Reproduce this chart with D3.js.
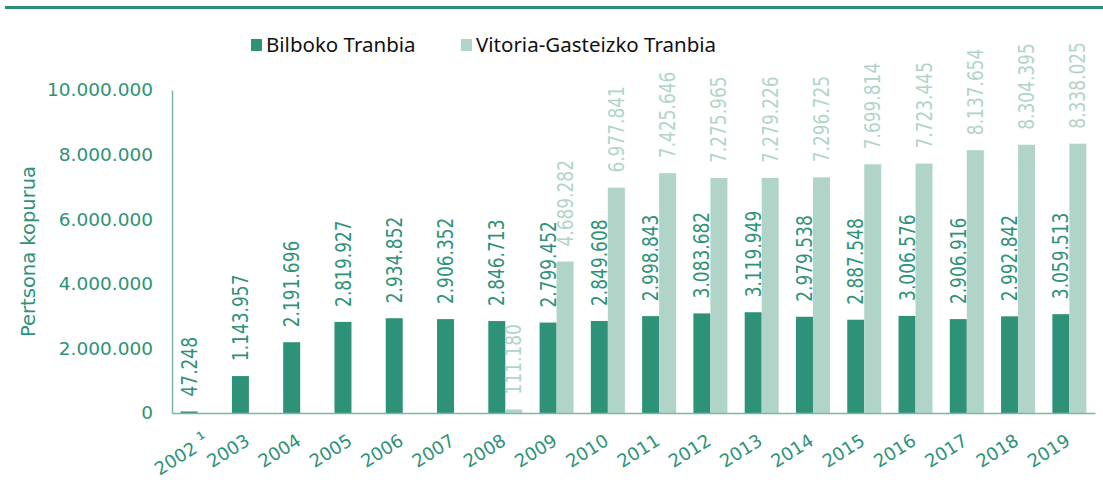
<!DOCTYPE html>
<html>
<head>
<meta charset="utf-8">
<script src="https://cdn.jsdelivr.net/npm/d3@7"></script>
<style>
  body { margin: 0; background: #fff; }
  svg { display: block; }
</style>
</head>
<body>
<div id="wrapper"></div>
<script>
// data
const years = ["2002","2003","2004","2005","2006","2007","2008","2009","2010",
  "2011","2012","2013","2014","2015","2016","2017","2018","2019"]
const yearLabels = ["2002 ¹","2003","2004","2005","2006","2007","2008","2009","2010",
  "2011","2012","2013","2014","2015","2016","2017","2018","2019"]
const bilbao = [47248,1143957,2191696,2819927,2934852,2906352,2846713,2799452,2849608,
  2998843,3083682,3119949,2979538,2887548,3006576,2906916,2992842,3059513]
const vitoria = [null,null,null,null,null,null,111180,4689282,6977841,
  7425646,7275965,7279226,7296725,7699814,7723445,8137654,8304395,8338025]
const seriesNames = ["Bilboko Tranbia","Vitoria-Gasteizko Tranbia"]
const yTicks = [0,2000000,4000000,6000000,8000000,10000000]
const yTitle = "Pertsona kopurua"

const darkGreen = "#2e9278"
const lightGreen = "#b0d5c8"
const axisColor = "#7cb6a4"

const width = 1103
const height = 487
let dimensions = {
  width: width,
  height: height,
  margin: {top: 90, right: 8, bottom: 74, left: 172},
}
dimensions.boundedWidth = dimensions.width - dimensions.margin.left - dimensions.margin.right
dimensions.boundedHeight = dimensions.height - dimensions.margin.top - dimensions.margin.bottom

const locale = d3.formatLocale({decimal: ",", thousands: ".", grouping: [3], currency: ["", ""]})
const fmt = locale.format(",d")

const rows = years.map((y, i) => ({year: y, label: yearLabels[i], values: [bilbao[i], vitoria[i]]}))

const svg = d3.select("#wrapper").append("svg")
    .attr("width", dimensions.width)
    .attr("height", dimensions.height)

// top rule
svg.append("rect")
    .attr("x", 5).attr("y", 6)
    .attr("width", width - 5).attr("height", 3)
    .attr("fill", "#2a8f74")

const bounds = svg.append("g")
    .attr("transform", `translate(${dimensions.margin.left},${dimensions.margin.top})`)

// scales
const xScale = d3.scaleBand()
    .domain(years)
    .range([0, dimensions.boundedWidth])
    .paddingInner(0.337)
    .paddingOuter(0.1685)

const subScale = d3.scaleBand()
    .domain([0, 1])
    .range([0, xScale.bandwidth()])

const yScale = d3.scaleLinear()
    .domain([0, 10000000])
    .range([dimensions.boundedHeight, 0])

const colors = [darkGreen, lightGreen]

// bars
const groups = bounds.selectAll(".year")
    .data(rows).enter().append("g")
      .attr("class", "year")
      .attr("transform", d => `translate(${xScale(d.year)},0)`)

const cells = groups.selectAll(".bar")
    .data(d => d.values.map((v, s) => ({v, s})).filter(c => c.v != null))
    .enter()

cells.append("rect")
    .attr("x", d => subScale(d.s))
    .attr("y", d => yScale(d.v))
    .attr("width", subScale.bandwidth())
    .attr("height", d => dimensions.boundedHeight - yScale(d.v))
    .attr("fill", d => colors[d.s])

// value labels, rotated
cells.append("text")
    .attr("transform", d => `translate(${subScale(d.s) + subScale.bandwidth() / 2},${yScale(d.v) - 15}) rotate(-90) scale(0.81,1)`)
    .attr("dy", "0.36em")
    .attr("font-family", "DejaVu Sans")
    .attr("font-size", 21)
    .attr("fill", d => colors[d.s])
    .text(d => fmt(d.v))

// axes
const yAxis = bounds.append("g")
    .call(d3.axisLeft(yScale).tickValues(yTicks).tickFormat(fmt).tickSize(0).tickPadding(19))
yAxis.select(".domain").attr("stroke", axisColor).attr("stroke-width", 1.5)
yAxis.selectAll("text")
    .attr("font-family", "DejaVu Sans")
    .attr("font-size", 18.5)
    .attr("fill", darkGreen)

const xAxis = bounds.append("g")
    .attr("transform", `translate(0,${dimensions.boundedHeight})`)
    .call(d3.axisBottom(xScale).tickSize(0).tickFormat(""))
xAxis.select(".domain").attr("stroke", axisColor).attr("stroke-width", 1.5)

const xLabels = xAxis.selectAll(".tick")
  .append("text")
    .attr("text-anchor", "end")
    .attr("font-family", "DejaVu Sans")
    .attr("font-size", 18)
    .attr("fill", darkGreen)
    .attr("transform", (d, i) => {
      const extra = yearLabels[i].includes(" ") ? 13 : 2
      return `translate(${extra},31) rotate(-32)`
    })
xLabels.each(function(d, i) {
  const parts = yearLabels[i].split(" ")
  const t = d3.select(this)
  t.append("tspan").text(parts[0])
  if (parts[1]) {
    t.append("tspan").attr("font-size", 20).attr("dy", -2).text(" " + parts[1])
  }
})

// y title
svg.append("text")
    .attr("transform", `translate(35,${dimensions.margin.top + dimensions.boundedHeight / 2}) rotate(-90)`)
    .attr("text-anchor", "middle")
    .attr("font-family", "DejaVu Sans")
    .attr("font-size", 19.5)
    .attr("fill", darkGreen)
    .text(yTitle)

// legend
const legendX = [251, 461]
const legend = svg.selectAll(".legend")
    .data(seriesNames).enter().append("g")
      .attr("class", "legend")
      .attr("transform", (d, i) => `translate(${legendX[i]},39)`)
legend.append("rect")
    .attr("width", 11).attr("height", 12)
    .attr("fill", (d, i) => colors[i])
legend.append("text")
    .attr("x", 15).attr("y", 13)
    .attr("font-family", "Noto Sans")
    .attr("font-size", 20.5)
    .attr("fill", "#111")
    .text(d => d)
</script>
</body>
</html>
